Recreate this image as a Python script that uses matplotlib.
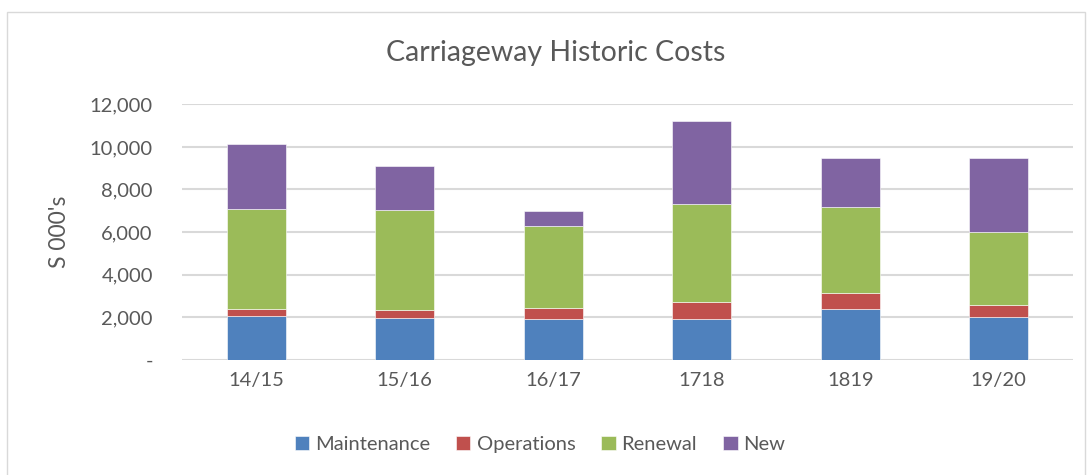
import matplotlib
matplotlib.use("Agg")
import matplotlib.pyplot as plt
from matplotlib.patches import Rectangle
from matplotlib.ticker import FuncFormatter

years = ["14/15", "15/16", "16/17", "1718", "1819", "19/20"]
maintenance = [2070, 1940, 1900, 1900, 2370, 2000]
operations = [330, 400, 540, 830, 750, 580]
renewal = [4670, 4680, 3850, 4590, 4070, 3430]
new = [3050, 2070, 690, 3900, 2290, 3460]

series = [("Maintenance", maintenance, "#4F81BD"),
          ("Operations", operations, "#C0504D"),
          ("Renewal", renewal, "#9BBB59"),
          ("New", new, "#8064A2")]

txt = "#595959"
plt.rcParams['font.family'] = ['Lato', 'DejaVu Sans']

fig = plt.figure(figsize=(10.88, 4.75), dpi=100)
ax = fig.add_axes([0.1673, 0.2427, 0.8189, 0.5377])

# light frame round the chart area
fig.patches.append(Rectangle((7 / 1088, -0.01), 1078 / 1088, 1 - 12 / 475 + 0.01,
                             transform=fig.transFigure, fill=False,
                             edgecolor="#D9D9D9", lw=1))

x = range(len(years))
bottom = [0] * len(years)
for name, vals, col in series:
    ax.bar(x, vals, 0.4, bottom=bottom, color=col, label=name,
           edgecolor="white", linewidth=0.4, zorder=3)
    bottom = [b + v for b, v in zip(bottom, vals)]

ax.set_xlim(-0.5, len(years) - 0.5)
ax.set_ylim(0, 12000)
ax.set_yticks(range(0, 12001, 2000))
ax.yaxis.set_major_formatter(FuncFormatter(lambda v, p: "-" if v == 0 else f"{v:,.0f}"))
ax.set_xticks(list(x))
ax.set_xticklabels(years)
ax.grid(axis="y", color="#D9D9D9", lw=1.5, zorder=0)
ax.tick_params(length=0, labelsize=14.5, colors=txt)
ax.tick_params(axis="y", pad=21)
ax.tick_params(axis="x", pad=9)
for s in ax.spines.values():
    s.set_visible(False)

ax.set_ylabel("S 000's", fontsize=16.5, color=txt, labelpad=14)
fig.text(0.5105, 0.888, "Carriageway Historic Costs", ha="center", va="center",
         fontsize=20.5, color=txt)

fig.legend(loc="center", bbox_to_anchor=(0.4965, 0.065), ncol=4, frameon=False,
           fontsize=14.5, labelcolor=txt, handlelength=0.7, handleheight=0.7,
           handletextpad=0.3, columnspacing=1.3)

fig.savefig("out.png", dpi=100)
